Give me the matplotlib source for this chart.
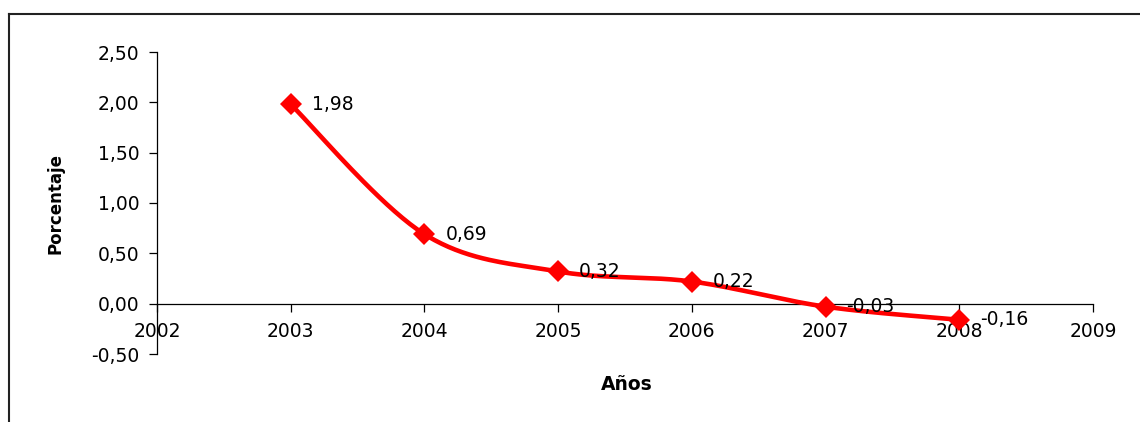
import numpy as np
import matplotlib
matplotlib.use("Agg")
import matplotlib.pyplot as plt
from matplotlib.ticker import FuncFormatter, MultipleLocator
from matplotlib.lines import Line2D

# Series: yearly percentage
years = [2003, 2004, 2005, 2006, 2007, 2008]
values = [1.98, 0.69, 0.32, 0.22, -0.03, -0.16]
value_labels = ["1,98", "0,69", "0,32", "0,22", "-0,03", "-0,16"]

x_title = "Años"
y_title = "Porcentaje"

RED = "#FF0000"
FONT = "DejaVu Sans"
FS = 13.5


def smooth_curve(xs, ys, steps=40):
    """Bezier smoothing through the points (Catmull-Rom style control points)."""
    pts = np.column_stack([xs, ys]).astype(float)
    n = len(pts)
    out = []
    for i in range(n - 1):
        p0 = pts[i - 1] if i > 0 else pts[i]
        p1 = pts[i]
        p2 = pts[i + 1]
        p3 = pts[i + 2] if i + 2 < n else pts[i + 1]
        c1 = p1 + (p2 - p0) / 6.0
        c2 = p2 - (p3 - p1) / 6.0
        t = np.linspace(0, 1, steps)[:, None]
        seg = ((1 - t) ** 3) * p1 + 3 * ((1 - t) ** 2) * t * c1 \
            + 3 * (1 - t) * t ** 2 * c2 + t ** 3 * p2
        out.append(seg if i == 0 else seg[1:])
    return np.vstack(out)


fig = plt.figure(figsize=(11.4, 4.22), dpi=100)
fig.patch.set_facecolor("white")

ax = fig.add_axes([157 / 1140, 1 - 354 / 422, (1093 - 157) / 1140, (354 - 52) / 422])
ax.set_facecolor("none")

curve = smooth_curve(years, values)
ax.plot(curve[:, 0], curve[:, 1], color=RED, lw=3.3, solid_capstyle="round", zorder=3)
ax.plot(years, values, linestyle="none", marker="D", ms=11, color=RED,
        markeredgecolor=RED, markeredgewidth=0, zorder=4)

for xv, yv, lab in zip(years, values, value_labels):
    ax.annotate(lab, (xv, yv), xytext=(15, 0), textcoords="offset points",
                ha="left", va="center", fontsize=FS, family=FONT, color="black", zorder=5)

ax.set_xlim(2002, 2009)
ax.set_ylim(-0.5, 2.5)
ax.xaxis.set_major_locator(MultipleLocator(1))
ax.yaxis.set_major_locator(MultipleLocator(0.5))
ax.xaxis.set_major_formatter(FuncFormatter(lambda v, p: f"{int(round(v))}"))
ax.yaxis.set_major_formatter(FuncFormatter(lambda v, p: f"{v:.2f}".replace(".", ",")))

for s in ("top", "right"):
    ax.spines[s].set_visible(False)
ax.spines["bottom"].set_position(("data", 0))
for s in ("left", "bottom"):
    ax.spines[s].set_linewidth(0.9)
    ax.spines[s].set_color("black")

ax.tick_params(axis="both", direction="out", length=5.5, width=0.9, color="black",
               labelsize=FS, labelcolor="black")
ax.tick_params(axis="x", pad=8)
ax.tick_params(axis="y", pad=7)
for lab in ax.get_xticklabels() + ax.get_yticklabels():
    lab.set_family(FONT)

fig.text(56 / 1140, 1 - 203 / 422, y_title, rotation=90, ha="center", va="center",
         fontsize=12, fontweight="bold", family=FONT)
fig.text(627 / 1140, 1 - 385 / 422, x_title, ha="center", va="center",
         fontsize=13.5, fontweight="bold", family=FONT)

# Chart area frame (top and left edges)
fx = 9 / 1140
fy = 1 - 14 / 422
fig.add_artist(Line2D([fx, 1.0], [fy, fy], transform=fig.transFigure,
                      color="#222222", lw=1.5))
fig.add_artist(Line2D([fx, fx], [0.0, fy], transform=fig.transFigure,
                      color="#222222", lw=1.5))

fig.savefig("out.png", dpi=100)
